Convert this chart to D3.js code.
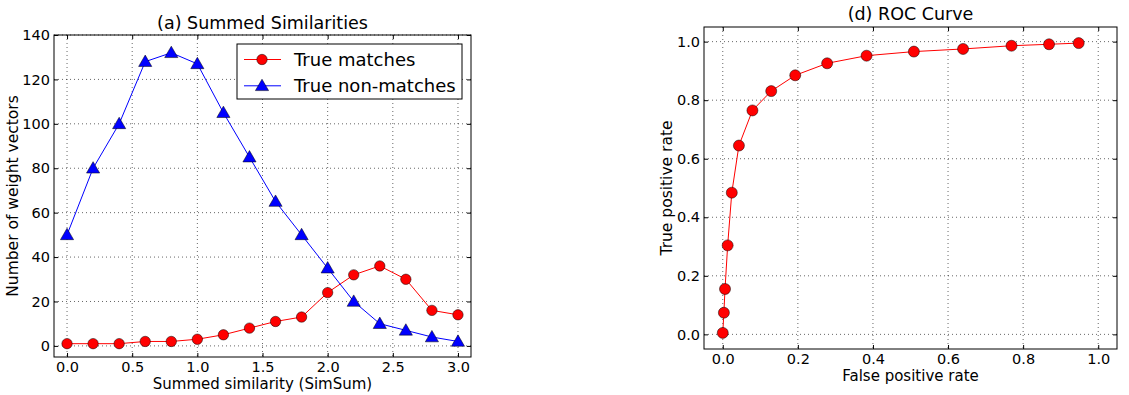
<!DOCTYPE html>
<html>
<head>
<meta charset="utf-8">
<script src="https://cdn.jsdelivr.net/npm/d3@7"></script>
<style>
body { margin: 0; background: #fff; }
svg { font-family: "DejaVu Sans", sans-serif; }
.grid line { stroke: #000; stroke-opacity: 0.6; stroke-dasharray: 1,3; }
</style>
</head>
<body>
<div id="chart"></div>
<script>
// data
var simSum = [0, 0.2, 0.4, 0.6, 0.8, 1.0, 1.2, 1.4, 1.6, 1.8, 2.0, 2.2, 2.4, 2.6, 2.8, 3.0]
var trueMatches = [1, 1, 1, 2, 2, 3, 5, 8, 11, 13, 24, 32, 36, 30, 16, 14]
var trueNonMatches = [50, 80, 100, 128, 132, 127, 105, 85, 65, 50, 35, 20, 10, 7, 4, 2]

var fpr = [0, 0.003, 0.006, 0.013, 0.024, 0.043, 0.079, 0.129, 0.193, 0.278, 0.383, 0.509, 0.640, 0.769, 0.869, 0.948]
var tpr = [0.005, 0.074, 0.155, 0.304, 0.484, 0.645, 0.765, 0.831, 0.885, 0.926, 0.952, 0.966, 0.975, 0.986, 0.991, 0.995]

var leftXTicks = [0, 0.5, 1.0, 1.5, 2.0, 2.5, 3.0]
var leftYTicks = [0, 20, 40, 60, 80, 100, 120, 140]
var rocTicks = [0, 0.2, 0.4, 0.6, 0.8, 1.0]

var svg = d3.select('#chart')
    .append('svg')
    .attr('width', 1129)
    .attr('height', 395)

function panel(opt) {
    var g = svg.append('g')
    var x = d3.scaleLinear().domain(opt.xDomain).range([opt.left, opt.right])
    var y = d3.scaleLinear().domain(opt.yDomain).range([opt.bottom, opt.top])

    // grid
    var grid = g.append('g').attr('class', 'grid')
    grid.selectAll('.vx').data(opt.xTicks).enter().append('line')
        .attr('x1', d => x(d)).attr('x2', d => x(d))
        .attr('y1', opt.top).attr('y2', opt.bottom)
    grid.selectAll('.hy').data(opt.yTicks).enter().append('line')
        .attr('y1', d => y(d)).attr('y2', d => y(d))
        .attr('x1', opt.left).attr('x2', opt.right)

    // axes, ticks pointing inward like matplotlib classic
    g.append('g').attr('transform', 'translate(0,' + opt.bottom + ')')
        .call(d3.axisBottom(x).tickValues(opt.xTicks).tickFormat(opt.xFmt).tickSizeInner(-4).tickSizeOuter(0).tickPadding(opt.xPad))
    g.append('g').attr('transform', 'translate(0,' + opt.top + ')')
        .call(d3.axisTop(x).tickValues(opt.xTicks).tickFormat('').tickSizeInner(-4).tickSizeOuter(0))
    g.append('g').attr('transform', 'translate(' + opt.left + ',0)')
        .call(d3.axisLeft(y).tickValues(opt.yTicks).tickFormat(opt.yFmt).tickSizeInner(-4).tickSizeOuter(0).tickPadding(4))
    g.append('g').attr('transform', 'translate(' + opt.right + ',0)')
        .call(d3.axisRight(y).tickValues(opt.yTicks).tickFormat('').tickSizeInner(-4).tickSizeOuter(0))
    g.selectAll('.domain').remove()
    g.selectAll('.tick text').attr('font-size', 14.5).attr('fill', '#000')
        .attr('font-family', '"DejaVu Sans", sans-serif')

    g.append('rect')
        .attr('x', opt.left).attr('y', opt.top)
        .attr('width', opt.right - opt.left).attr('height', opt.bottom - opt.top)
        .attr('fill', 'none').attr('stroke', '#000').attr('stroke-width', 1)

    g.append('text').text(opt.title)
        .attr('x', (opt.left + opt.right) / 2).attr('y', opt.titleY)
        .attr('text-anchor', 'middle').attr('font-size', 17.5)
    g.append('text').text(opt.xLabel)
        .attr('x', (opt.left + opt.right) / 2).attr('y', opt.xLabelY)
        .attr('text-anchor', 'middle').attr('font-size', 15)
    g.append('text').text(opt.yLabel)
        .attr('transform', 'translate(' + opt.yLabelX + ',' + (opt.top + opt.bottom) / 2 + ') rotate(-90)')
        .attr('text-anchor', 'middle').attr('font-size', 15.5)

    return { g: g, x: x, y: y }
}

function drawSeries(p, xs, ys, color, shape, size) {
    var pts = xs.map((d, i) => [d, ys[i]])
    var line = d3.line().x(d => p.x(d[0])).y(d => p.y(d[1]))
    p.g.append('path').datum(pts)
        .attr('d', line).attr('fill', 'none')
        .attr('stroke', color).attr('stroke-width', 1)
    var sym = d3.symbol().type(shape === 'tri' ? d3.symbolTriangle : d3.symbolCircle).size(size)
    p.g.selectAll('.m' + color.slice(1)).data(pts).enter().append('path')
        .attr('d', sym)
        .attr('transform', d => 'translate(' + p.x(d[0]) + ',' + (p.y(d[1]) + (shape === 'tri' ? 1 : 0)) + ')')
        .attr('fill', color).attr('stroke', '#000').attr('stroke-width', 0.5)
}

// (a) Summed Similarities
var pa = panel({
    left: 54, right: 471, top: 35, bottom: 357,
    xDomain: [-0.1, 3.1], yDomain: [-5, 140],
    xTicks: leftXTicks, yTicks: leftYTicks,
    xFmt: d3.format('.1f'), yFmt: d3.format('d'), xPad: 5,
    title: '(a) Summed Similarities', titleY: 29,
    xLabel: 'Summed similarity (SimSum)', xLabelY: 389,
    yLabel: 'Number of weight vectors', yLabelX: 18
})
drawSeries(pa, simSum, trueMatches, '#ff0000', 'circle', 85)
drawSeries(pa, simSum, trueNonMatches, '#0000ff', 'tri', 75)

// legend
var leg = pa.g.append('g')
leg.append('rect').attr('x', 237).attr('y', 44).attr('width', 225).attr('height', 55)
    .attr('fill', '#fff').attr('stroke', '#000').attr('stroke-width', 1)
var legendItems = [['True matches', '#ff0000', d3.symbolCircle, 85], ['True non-matches', '#0000ff', d3.symbolTriangle, 75]]
legendItems.forEach(function (it, i) {
    var yy = 59.5 + i * 26.3
    leg.append('line').attr('x1', 244).attr('x2', 281).attr('y1', yy).attr('y2', yy)
        .attr('stroke', it[1]).attr('stroke-width', 1)
    leg.append('path').attr('d', d3.symbol().type(it[2]).size(it[3]))
        .attr('transform', 'translate(262,' + (yy + (i ? 1 : 0)) + ')')
        .attr('fill', it[1]).attr('stroke', '#000').attr('stroke-width', 0.5)
    leg.append('text').text(it[0]).attr('x', 294).attr('y', yy + 6.5).attr('font-size', 18)
})

// (d) ROC Curve
var pd = panel({
    left: 704, right: 1117, top: 27, bottom: 349,
    xDomain: [-0.05, 1.05], yDomain: [-0.05, 1.05],
    xTicks: rocTicks, yTicks: rocTicks,
    xFmt: d3.format('.1f'), yFmt: d3.format('.1f'), xPad: 5,
    title: '(d) ROC Curve', titleY: 20,
    xLabel: 'False positive rate', xLabelY: 381,
    yLabel: 'True positive rate', yLabelX: 672
})
drawSeries(pd, fpr, tpr, '#ff0000', 'circle', 95)
</script>
</body>
</html>
